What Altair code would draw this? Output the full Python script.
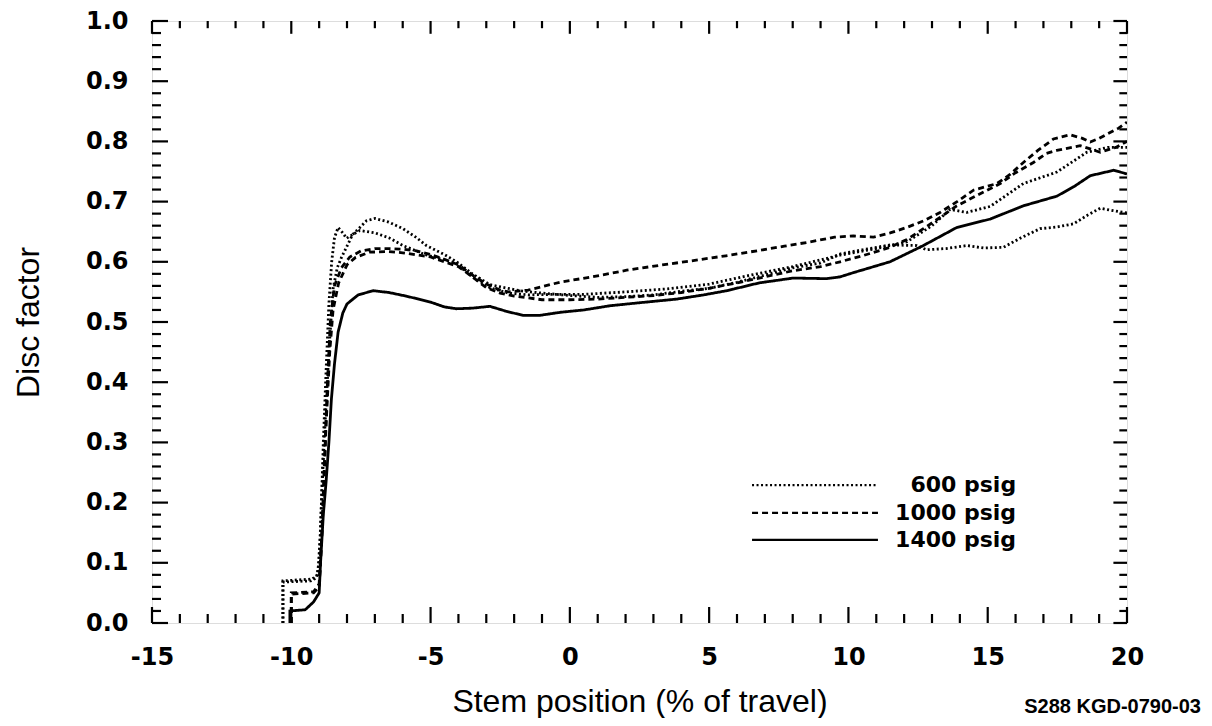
import altair as alt
import pandas as pd
import numpy as np

# ---------------- data ----------------
pressures = ["600 psig", "1000 psig", "1400 psig"]

x_1400 = [-10.05, -10.05, -9.5, -9.2, -9.0, -8.95, -8.85, -8.75, -8.65, -8.56, -8.45, -8.32, -8.15, -8.0,
          -7.6, -7.06, -6.5, -5.87, -5.0, -4.5, -4.07, -3.5, -2.87, -2.3, -1.68, -1.08, -0.36, 0.5, 1.44,
          2.5, 3.83, 4.8, 5.63, 6.8, 8.02, 9.22, 9.7, 10.18, 11.49, 12.69, 13.89, 15.09, 16.28, 17.48,
          18.1, 18.68, 19.52, 20.0]
y_1400 = [0.0, 0.02, 0.022, 0.035, 0.05, 0.1, 0.18, 0.235, 0.3, 0.372, 0.43, 0.483, 0.515, 0.53,
          0.545, 0.552, 0.549, 0.543, 0.533, 0.525, 0.522, 0.523, 0.526, 0.518, 0.511, 0.511, 0.516, 0.52,
          0.527, 0.532, 0.538, 0.545, 0.552, 0.565, 0.573, 0.572, 0.575, 0.582, 0.600, 0.627, 0.657,
          0.671, 0.693, 0.709, 0.725, 0.743, 0.752, 0.746]

x_600a = [-10.3, -10.3, -9.25, -9.05, -8.95, -8.85, -8.75, -8.65, -8.55, -8.45, -8.32, -8.15, -8.02, -7.8,
          -7.54, -7.0, -6.5, -5.99, -5.2, -4.5, -4.07, -3.5, -2.87, -2.2, -1.5, -0.5, 0.5, 2.0, 3.5, 5.0,
          6.5, 8.0, 9.7, 11.0, 12.09, 13.0, 13.65, 14.25, 15.09, 16.28, 17.48, 18.56, 19.3, 20.0]
y_600a = [0.0, 0.07, 0.073, 0.08, 0.15, 0.3, 0.42, 0.53, 0.6, 0.64, 0.657, 0.648, 0.639, 0.645,
          0.652, 0.648, 0.64, 0.627, 0.612, 0.603, 0.597, 0.575, 0.557, 0.548, 0.545, 0.546, 0.546, 0.55,
          0.555, 0.563, 0.578, 0.592, 0.611, 0.622, 0.633, 0.66, 0.687, 0.682, 0.692, 0.730, 0.749,
          0.782, 0.79, 0.790]

x_600b = [-10.3, -10.3, -9.3, -9.1, -9.0, -8.9, -8.8, -8.65, -8.5, -8.35, -8.2, -7.8, -7.3, -7.0, -6.5,
          -5.99, -5.5, -5.15, -4.5, -4.07, -3.5, -2.87, -1.8, -1.0, 0.0, 1.0, 2.0, 3.0, 4.0, 5.0, 6.0, 7.0,
          8.0, 9.0, 9.7, 10.5, 11.5, 12.45, 12.81, 13.5, 14.25, 14.85, 15.56, 16.2, 16.88, 17.5, 18.08,
          18.6, 19.04, 19.5, 20.0]
y_600b = [0.0, 0.068, 0.07, 0.075, 0.1, 0.22, 0.32, 0.45, 0.555, 0.59, 0.607, 0.645, 0.668, 0.672, 0.666,
          0.655, 0.64, 0.627, 0.612, 0.600, 0.58, 0.562, 0.552, 0.548, 0.544, 0.541, 0.542, 0.545, 0.551,
          0.556, 0.566, 0.578, 0.59, 0.598, 0.613, 0.62, 0.628, 0.627, 0.62, 0.622, 0.627, 0.623, 0.624,
          0.64, 0.655, 0.658, 0.663, 0.678, 0.689, 0.685, 0.681]

x_1000a = [-10.0, -10.0, -9.2, -9.0, -8.9, -8.8, -8.7, -8.6, -8.45, -8.2, -7.9, -7.5, -7.0, -6.5, -6.0,
           -5.5, -5.0, -4.5, -4.0, -3.5, -3.0, -2.5, -2.2, -1.5, -0.36, 0.8, 2.04, 3.2, 4.43, 5.6, 6.82,
           7.7, 8.62, 9.5, 10.18, 10.9, 11.5, 12.09, 12.7, 13.29, 13.9, 14.49, 15.33, 15.8, 16.28, 16.8,
           17.36, 17.96, 18.4, 18.68, 19.0, 19.28, 19.7, 20.0]
y_1000a = [0.0, 0.05, 0.052, 0.065, 0.15, 0.28, 0.4, 0.5, 0.56, 0.59, 0.608, 0.618, 0.622, 0.622, 0.621,
           0.618, 0.612, 0.604, 0.595, 0.578, 0.563, 0.553, 0.550, 0.553, 0.566, 0.575, 0.586, 0.594,
           0.602, 0.61, 0.619, 0.626, 0.633, 0.641, 0.643, 0.641, 0.648, 0.657, 0.668, 0.682, 0.7, 0.719,
           0.73, 0.745, 0.765, 0.785, 0.804, 0.811, 0.805, 0.799, 0.805, 0.812, 0.822, 0.832]

x_1000b = [-10.0, -10.0, -9.2, -9.0, -8.95, -8.85, -8.75, -8.62, -8.5, -8.3, -8.0, -7.7, -7.2, -6.5, -6.0,
           -5.0, -4.0, -3.5, -3.0, -2.5, -2.0, -1.0, 0.0, 1.0, 2.0, 3.0, 4.0, 5.0, 6.0, 7.0, 8.0, 9.0, 9.7,
           10.5, 11.49, 12.1, 12.69, 13.3, 13.89, 14.6, 15.45, 16.0, 16.64, 17.1, 17.48, 18.32, 19.04,
           19.6, 20.0]
y_1000b = [0.0, 0.048, 0.05, 0.06, 0.1, 0.2, 0.33, 0.45, 0.52, 0.565, 0.595, 0.607, 0.616, 0.617, 0.615,
           0.608, 0.592, 0.575, 0.557, 0.548, 0.543, 0.537, 0.537, 0.538, 0.541, 0.544, 0.549, 0.556,
           0.565, 0.575, 0.585, 0.592, 0.6, 0.61, 0.624, 0.637, 0.655, 0.674, 0.693, 0.71, 0.73, 0.748,
           0.765, 0.78, 0.785, 0.793, 0.782, 0.79, 0.8]

x_ticks_major = [-15, -10, -5, 0, 5, 10, 15, 20]
y_ticks_major = [0.0, 0.1, 0.2, 0.3, 0.4, 0.5, 0.6, 0.7, 0.8, 0.9, 1.0]

runs = [
    ("600 psig", "600 a", x_600a, y_600a),
    ("600 psig", "600 b", x_600b, y_600b),
    ("1000 psig", "1000 a", x_1000a, y_1000a),
    ("1000 psig", "1000 b", x_1000b, y_1000b),
    ("1400 psig", "1400", x_1400, y_1400),
]
rows = []
for p, r, xs, ys in runs:
    for i, (xv, yv) in enumerate(zip(xs, ys)):
        rows.append({"pressure": p, "run": r, "i": i, "x": xv, "y": yv})
df = pd.DataFrame(rows)

# ---------------- layout ----------------
W, H = 975, 602
FONT_NUM = "DejaVu Sans"
FONT_TITLE = "Liberation Sans"

xscale = alt.Scale(domain=[-15, 20], nice=False, zero=False)
yscale = alt.Scale(domain=[0, 1], nice=False, zero=False)
dash_scale = alt.Scale(domain=pressures, range=[[2, 2.5], [6, 4], [1, 0]])

x_axis = alt.Axis(values=x_ticks_major, ticks=False, tickSize=0, domain=False, grid=False,
                  labelExpr="'' + datum.value", labelFont=FONT_NUM, labelFontSize=24,
                  labelFontWeight="bold", labelColor="black", labelPadding=22, labelFlush=False,
                  labelOverlap=False, title="Stem position (% of travel)", titleFont=FONT_TITLE,
                  titleFontSize=32, titleFontWeight="normal", titleColor="black",
                  titleX=W / 2, titleY=78, titleBaseline="middle", titleAlign="center")
y_axis = alt.Axis(values=y_ticks_major, ticks=False, tickSize=0, domain=False, grid=False,
                  format=".1f", labelFont=FONT_NUM, labelFontSize=24, labelFontWeight="bold",
                  labelColor="black", labelPadding=24, labelFlush=False, labelOverlap=False,
                  title="Disc factor", titleFont=FONT_TITLE, titleFontSize=32,
                  titleFontWeight="normal", titleColor="black", titleAngle=270,
                  titleX=-124, titleY=H / 2, titleBaseline="middle", titleAlign="center")


def X(f="x"):
    return alt.X(f"{f}:Q", scale=xscale, axis=x_axis)


def Y(f="y"):
    return alt.Y(f"{f}:Q", scale=yscale, axis=y_axis)


lines = alt.Chart(df).mark_line(color="black", strokeWidth=2.8, clip=True).encode(
    x=X(), y=Y(),
    strokeDash=alt.StrokeDash("pressure:N", scale=dash_scale, legend=None),
    detail="run:N",
    order="i:Q",
)

# frame ticks (inward) on all four sides
xt_minor = pd.DataFrame({"x": [float(v) for v in np.arange(-15, 21, 1) if v % 5 != 0]})
xt_major = pd.DataFrame({"x": [float(v) for v in x_ticks_major]})
yt_minor = pd.DataFrame({"y": [round(v, 2) for v in np.arange(0, 1.001, 0.02)
                               if abs(round(v * 10) - v * 10) > 1e-6]})
yt_major = pd.DataFrame({"y": y_ticks_major})

LMIN, LMAJ = 9, 16
tick_layers = []
for d, L in [(xt_minor, LMIN), (xt_major, LMAJ)]:
    tick_layers.append(alt.Chart(d).mark_rule(color="black", strokeWidth=2.2).encode(
        x=X(), y=alt.value(H), y2=alt.value(H - L)))
    tick_layers.append(alt.Chart(d).mark_rule(color="black", strokeWidth=2.2).encode(
        x=X(), y=alt.value(0), y2=alt.value(L * 0.8)))
for d, L in [(yt_minor, LMIN), (yt_major, LMAJ)]:
    tick_layers.append(alt.Chart(d).mark_rule(color="black", strokeWidth=2.2).encode(
        y=Y(), x=alt.value(0), x2=alt.value(L)))
    tick_layers.append(alt.Chart(d).mark_rule(color="black", strokeWidth=2.2).encode(
        y=Y(), x=alt.value(W), x2=alt.value(W - L * 0.85)))

# manual legend (placed in data units inside the plot)
leg = pd.DataFrame({
    "pressure": pressures,
    "x": [6.54, 6.54, 6.54],
    "x2": [11.06, 11.06, 11.06],
    "xt": [16.02, 16.02, 16.02],
    "y": [0.229, 0.183, 0.138],
})
leg_lines = alt.Chart(leg).mark_rule(color="black", strokeWidth=2.4).encode(
    x=X(), x2="x2:Q", y=Y(),
    strokeDash=alt.StrokeDash("pressure:N", scale=dash_scale, legend=None),
)
leg_text = alt.Chart(leg).mark_text(align="right", baseline="middle", font=FONT_NUM,
                                    fontSize=22, fontWeight="bold", color="black").encode(
    x=X("xt"), y=Y(), text="pressure:N")

note = alt.Chart(pd.DataFrame({"t": ["S288 KGD-0790-03"]})).mark_text(
    align="right", baseline="alphabetic", font=FONT_TITLE, fontSize=20, fontWeight="bold",
    color="black").encode(x=alt.value(W + 74), y=alt.value(H + 90), text="t:N")

chart = alt.layer(lines, *tick_layers, leg_lines, leg_text, note).properties(
    width=W, height=H,
    autosize=alt.AutoSizeParams(type="none"),
    padding={"left": 144, "top": 13, "right": 76, "bottom": 95},
).configure_view(stroke="black", strokeWidth=3).configure(background="white")

chart.save("out.html", embed_options={"renderer": "svg", "actions": False})
